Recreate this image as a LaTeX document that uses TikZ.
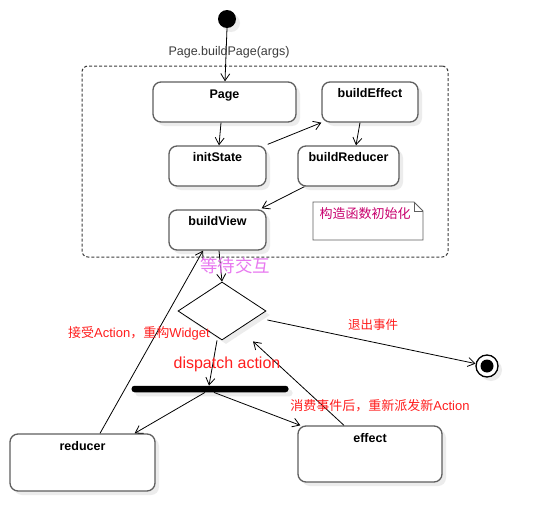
\documentclass[tikz,border=0pt]{standalone}
\usepackage{fontspec}
\setmainfont{Liberation Sans}
\newfontfamily\cjk{Noto Sans CJK SC}
\usetikzlibrary{arrows.meta,shapes.geometric,shadows,calc}
\definecolor{boxline}{RGB}{95,95,95}
\definecolor{shade}{RGB}{236,236,236}
\definecolor{waitc}{RGB}{232,120,240}
\definecolor{notec}{RGB}{200,0,110}
\definecolor{redc}{RGB}{255,30,30}
\definecolor{labc}{RGB}{60,60,60}
\begin{document}
\begin{tikzpicture}[x=1pt,y=-1pt,
  shd/.style={drop shadow={shadow xshift=4pt,shadow yshift=-4pt,fill=shade,opacity=1}},
  statebox/.style={draw=boxline,line width=1.3pt,rounded corners=8pt,fill=white,shd,inner sep=0pt},
  lbl/.style={font=\fontsize{12.5}{14}\selectfont\bfseries,anchor=north,inner sep=0pt},
  conn/.style={draw=black,line width=0.8pt,-{Straight Barb[length=7pt,width=9pt]}},
  txt/.style={font=\fontsize{13}{15}\selectfont,inner sep=0pt},
]
\useasboundingbox (0,0) rectangle (539,530);
\fill[white] (0,0) rectangle (539,530);

% container
\node[draw=labc,dash pattern=on 3pt off 2pt,line width=1pt,rounded corners=6pt,
      minimum width=366pt,minimum height=191pt,inner sep=0pt] (frame) at (265,161.5) {};

% start / end
\node[circle,fill=black,minimum size=18pt,inner sep=0pt,shd] (start) at (227,19) {};
\node[circle,draw=black,line width=1.3pt,fill=white,minimum size=22pt,inner sep=0pt,shd] (endc) at (487,366) {};
\node[circle,fill=black,minimum size=13pt,inner sep=0pt] (endd) at (endc) {};

% states
\node[statebox,minimum width=143pt,minimum height=40pt] (page)  at (224.5,102) {};
\node[statebox,minimum width=96pt, minimum height=40pt] (beff)  at (370,102) {};
\node[statebox,minimum width=97pt, minimum height=40pt] (init)  at (217.5,166) {};
\node[statebox,minimum width=101pt,minimum height=40pt] (bred)  at (348.5,166) {};
\node[statebox,minimum width=97pt, minimum height=40pt] (bview) at (217.5,230) {};
\node[statebox,minimum width=145pt,minimum height=57pt] (red)   at (82.5,462.5) {};
\node[statebox,minimum width=144pt,minimum height=56pt] (eff)   at (370,454) {};

\node[lbl] (pagel)  at ($(page.north)+(0,8)$)  {Page};
\node[lbl] (beffl)  at ($(beff.north)+(0,7)$)  {buildEffect};
\node[lbl] (initl)  at ($(init.north)+(0,7)$)  {initState};
\node[lbl] (bredl)  at ($(bred.north)+(0,7)$)  {buildReducer};
\node[lbl] (bviewl) at ($(bview.north)+(0,7)$) {buildView};
\node[lbl] (redl)   at ($(red.north)+(0,8)$)   {reducer};
\node[lbl] (effl)   at ($(eff.north)+(0,8)$)   {effect};

% note
\draw[draw=boxline,line width=0.9pt,fill=white] (313,202) -- (414,202) -- (423,211) -- (423,240) -- (313,240) -- cycle;
\draw[draw=boxline,line width=0.9pt] (414,202) -- (414,211) -- (423,211);
\node[txt,font=\fontsize{13}{15}\selectfont\cjk,text=notec] (notet) at (365,214) {构造函数初始化};

% decision and bar
\node[diamond,draw=black,line width=0.8pt,fill=white,minimum width=88pt,minimum height=58pt,inner sep=0pt,shd] (dia) at (222,311) {};
\node[fill=black,rounded corners=3pt,minimum width=157pt,minimum height=6.5pt,inner sep=0pt,shd] (bar) at (210,389) {};

% connectors
\draw[conn] (start.south) -- ($(page.north)+(0.5,0)$);
\draw[conn] ($(page.south)+(-3.5,0)$) -- ($(init.north)+(1.5,0)$);
\draw[conn] ($(init.north east)+(1,-1)$) -- (beff.south west);
\draw[conn] ($(beff.south)+(-10,0)$) -- ($(bred.north)+(7.5,0)$);
\draw[conn] ($(bred.south west)+(7,0)$) -- ($(bview.north east)+(-5,-1)$);
\draw[conn] ($(bview.south)+(1.5,0)$) -- (dia.north);
\draw[conn] ($(dia.east)+(1,9)$) -- (endc);
\draw[conn] ($(dia.south)+(-5,0)$) -- ($(bar.north)+(-1,0)$);
\draw[conn] ($(bar.south)+(-5,0)$) -- ($(red.north east)+(-21,0)$);
\draw[conn] ($(bar.south)+(4,0)$) -- ($(eff.north west)+(3,0)$);
\draw[conn] ($(eff.north)+(-26,0)$) -- ($(dia.south)+(31,1)$);
\draw[conn] ($(red.north)+(17.5,0)$) -- ($(bview.south)+(-14.5,0)$);

% texts
\node[txt,font=\fontsize{12.5}{14}\selectfont,text=labc] (callt) at (229,52) {Page.buildPage(args)};
\node[txt,font=\fontsize{17.5}{20}\selectfont\cjk,text=waitc] (waitt) at (235,266) {等待交互};
\node[txt,text=redc] (acct) at (139,333) {{\cjk 接受}Action{\cjk ，重构}Widget};
\node[txt,font=\fontsize{16}{18}\selectfont,text=redc] (dispt) at (227,364) {dispatch action};
\node[txt,font=\fontsize{12.5}{14}\selectfont\cjk,text=redc] (exitt) at (373,325) {退出事件};
\node[txt,text=redc] (cont) at (380,406) {{\cjk 消费事件后，重新派发新}Action};
\end{tikzpicture}
\end{document}
